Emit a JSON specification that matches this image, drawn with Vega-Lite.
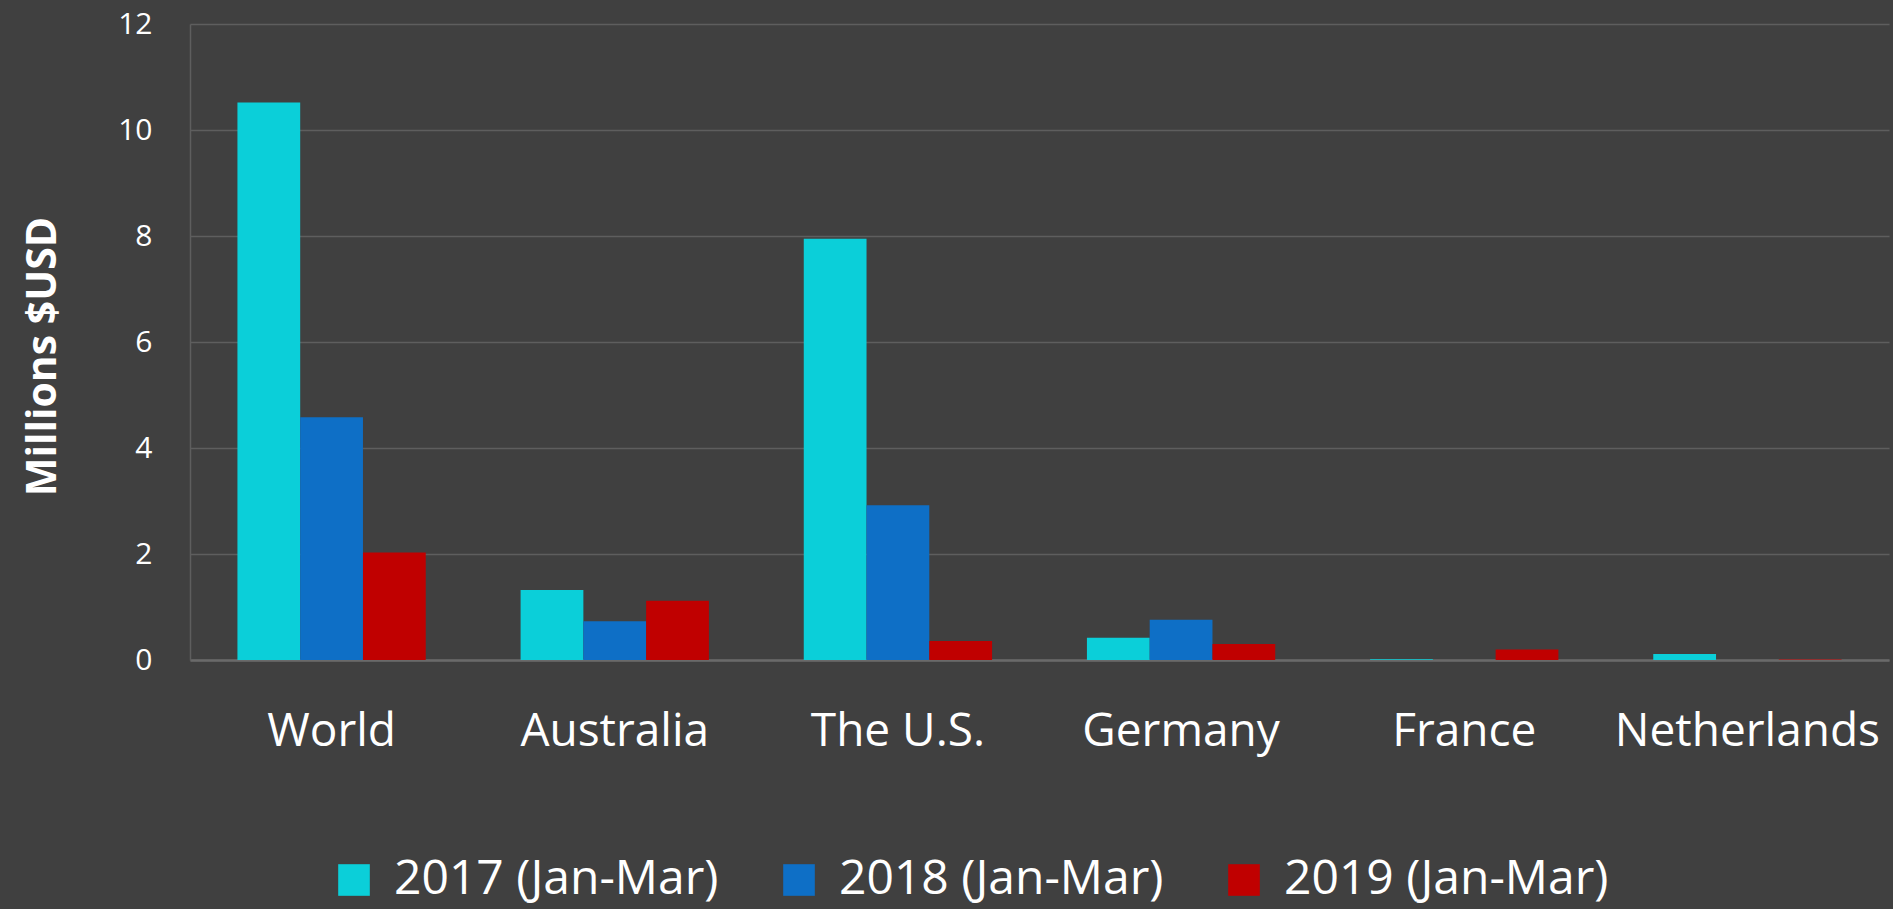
{
  "$schema": "https://vega.github.io/schema/vega-lite/v6.json",
  "autosize": "none",
  "width": 1699,
  "height": 636,
  "padding": {"left": 190, "top": 24, "right": 4, "bottom": 249},
  "background": "#404040",
  "config": {
    "font": "Open Sans",
    "view": {"stroke": null}
  },
  "data": {
    "values": [
      {"region": "World", "period": "2017 (Jan-Mar)", "value": 10.52},
      {"region": "World", "period": "2018 (Jan-Mar)", "value": 4.58},
      {"region": "World", "period": "2019 (Jan-Mar)", "value": 2.03},
      {"region": "Australia", "period": "2017 (Jan-Mar)", "value": 1.32},
      {"region": "Australia", "period": "2018 (Jan-Mar)", "value": 0.73},
      {"region": "Australia", "period": "2019 (Jan-Mar)", "value": 1.12},
      {"region": "The U.S.", "period": "2017 (Jan-Mar)", "value": 7.95},
      {"region": "The U.S.", "period": "2018 (Jan-Mar)", "value": 2.92},
      {"region": "The U.S.", "period": "2019 (Jan-Mar)", "value": 0.36},
      {"region": "Germany", "period": "2017 (Jan-Mar)", "value": 0.42},
      {"region": "Germany", "period": "2018 (Jan-Mar)", "value": 0.76},
      {"region": "Germany", "period": "2019 (Jan-Mar)", "value": 0.3},
      {"region": "France", "period": "2017 (Jan-Mar)", "value": 0.015},
      {"region": "France", "period": "2018 (Jan-Mar)", "value": 0},
      {"region": "France", "period": "2019 (Jan-Mar)", "value": 0.2},
      {"region": "Netherlands", "period": "2017 (Jan-Mar)", "value": 0.115},
      {"region": "Netherlands", "period": "2018 (Jan-Mar)", "value": 0},
      {"region": "Netherlands", "period": "2019 (Jan-Mar)", "value": 0.008}
    ]
  },
  "mark": {"type": "bar"},
  "encoding": {
    "x": {
      "field": "region",
      "type": "nominal",
      "sort": ["World", "Australia", "The U.S.", "Germany", "France", "Netherlands"],
      "scale": {"paddingInner": 0.335, "paddingOuter": 0.1675},
      "axis": {
        "title": null,
        "labelAngle": 0,
        "labelFontSize": 46,
        "labelColor": "#ffffff",
        "labelPadding": 49,
        "labelLimit": 500,
        "labelOverlap": false,
        "ticks": false,
        "domainColor": "#6a6a6a",
        "domainWidth": 2.5,
        "grid": false
      }
    },
    "xOffset": {
      "field": "period",
      "type": "nominal",
      "scale": {"paddingInner": 0, "paddingOuter": 0}
    },
    "y": {
      "field": "value",
      "type": "quantitative",
      "scale": {"domain": [0, 12], "nice": false},
      "axis": {
        "title": "Millions $USD",
        "titleFontSize": 41,
        "titleFontWeight": "bold",
        "titleColor": "#ffffff",
        "titleAngle": 270,
        "titleAlign": "center",
        "titleBaseline": "middle",
        "titleX": -147,
        "titleY": 332,
        "values": [0, 2, 4, 6, 8, 10, 12],
        "labelFontSize": 30,
        "labelColor": "#ffffff",
        "labelPadding": 38,
        "ticks": false,
        "domainColor": "#5e5e5e",
        "domainWidth": 1.5,
        "gridColor": "#5e5e5e",
        "gridWidth": 1.5
      }
    },
    "color": {
      "field": "period",
      "type": "nominal",
      "scale": {
        "domain": ["2017 (Jan-Mar)", "2018 (Jan-Mar)", "2019 (Jan-Mar)"],
        "range": ["#0BCFD9", "#0E6FC6", "#C00000"]
      },
      "legend": {
        "title": null,
        "orient": "none",
        "direction": "horizontal",
        "legendX": 140,
        "legendY": 832,
        "symbolType": "square",
        "symbolSize": 1000,
        "symbolStrokeWidth": 0,
        "labelFontSize": 48,
        "labelColor": "#ffffff",
        "labelOffset": 16,
        "columnPadding": 56,
        "labelLimit": 600
      }
    }
  }
}
